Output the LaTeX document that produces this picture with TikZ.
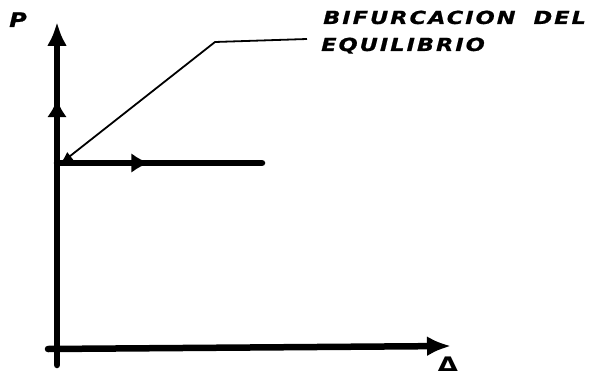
\documentclass[tikz,border=0pt]{standalone}
\usepackage{fontspec}
\newfontfamily\labfont[LetterSpace=11,FakeStretch=1.25,FakeBold=0.8]{DejaVu Sans}
\newfontfamily\symfont[FakeStretch=1.2,FakeBold=0.8]{DejaVu Sans}
\newfontfamily\widesym[FakeStretch=1.3]{DejaVu Sans}
\usetikzlibrary{arrows.meta,decorations.markings}
\tikzset{
  axisline/.style={line width=6.5pt, line cap=round},
  bigtip/.style={-{Latex[length=24pt,width=20pt]}},
  midtip/.style={postaction={decorate}, decoration={markings,
     mark=at position #1 with {\arrow{Latex[length=18pt,width=20pt]}}}},
  leader/.style={line width=1.8pt, -{Latex[length=13pt,width=10pt]}},
  lab/.style={font=\labfont\bfseries\itshape\fontsize{18}{20}\selectfont, inner sep=0pt, anchor=base west},
}
\begin{document}
\begin{tikzpicture}[x=1pt,y=-1pt]
\useasboundingbox (0,0) rectangle (596,377);
\coordinate (vb) at (57,365);
\coordinate (vt) at (57,22);
\coordinate (hl) at (48,349);
\coordinate (hr) at (451,346);
\coordinate (bs) at (57,163);
\coordinate (be) at (262,163);
\coordinate (lk) at (215,42);
\coordinate (le) at (307,39);
\coordinate (lt) at (60,164);
% axes
\draw[axisline, bigtip, midtip=0.775] (vb) -- (vt);
\draw[axisline, bigtip] (hl) -- (hr);
% bifurcated branch
\draw[axisline, midtip=0.45] (bs) -- (be);
% leader
\draw[leader, line join=round] (le) -- (lk) -- (lt);
% labels
\node[lab] (t1) at (323,24) {BIFURCACION\hspace{18pt}DEL};
\node[lab] (t2) at (321,51) {EQUILIBRIO};
\node[font=\symfont\bfseries\itshape\fontsize{20}{22}\selectfont, inner sep=0pt, anchor=base] (pl) at (18,27) {P};
\node[font=\widesym\bfseries\fontsize{20}{22}\selectfont, inner sep=0pt, anchor=base] (dl) at (448,371) {Δ};
\end{tikzpicture}
\end{document}
